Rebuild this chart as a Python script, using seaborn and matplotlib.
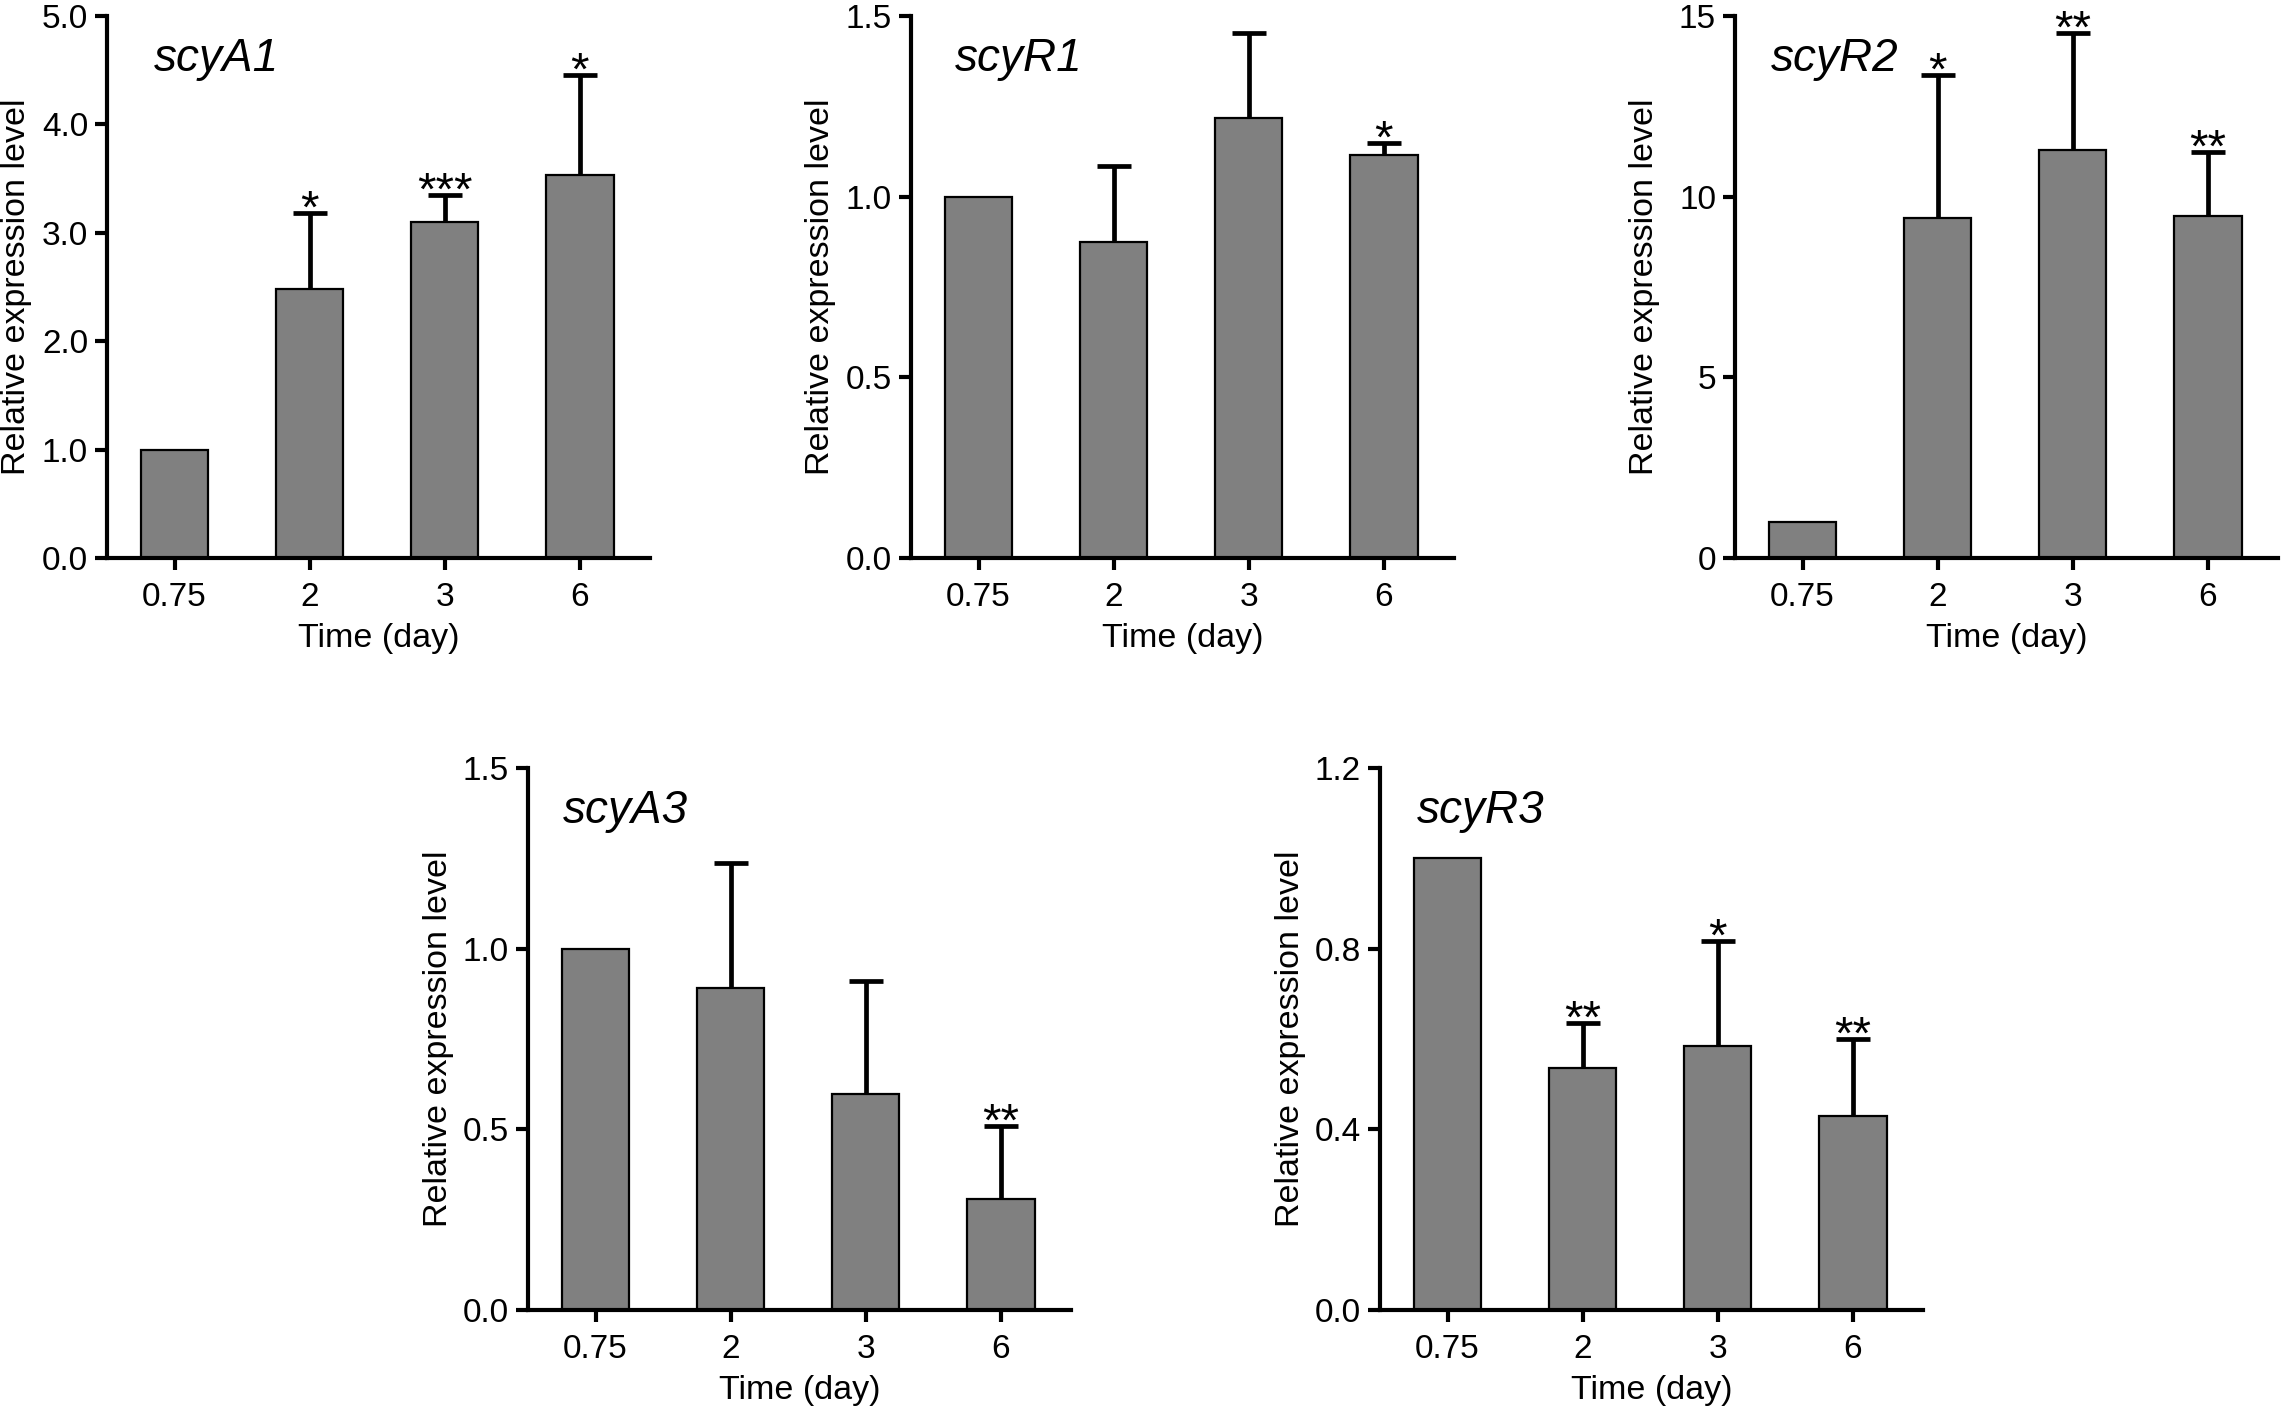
import matplotlib
matplotlib.use("Agg")
import matplotlib.pyplot as plt
import seaborn as sns
import numpy as np
import pandas as pd

sns.set_theme(style="ticks")
plt.rcParams['font.family'] = ['Liberation Sans', 'DejaVu Sans']

# ---------------- data ----------------
time_labels = ["0.75", "2", "3", "6"]

genes = ["scyA1", "scyR1", "scyR2", "scyA3", "scyR3"]

scyA1_mean = [1.0, 2.48, 3.10, 3.53]
scyA1_err = [0.0, 0.70, 0.25, 0.93]
scyA1_sig = ["", "*", "***", "*"]

scyR1_mean = [1.0, 0.874, 1.219, 1.116]
scyR1_err = [0.0, 0.212, 0.233, 0.032]
scyR1_sig = ["", "", "", "*"]

scyR2_mean = [1.0, 9.42, 11.29, 9.46]
scyR2_err = [0.0, 3.94, 3.25, 1.77]
scyR2_sig = ["", "*", "**", "**"]

scyA3_mean = [1.0, 0.89, 0.597, 0.307]
scyA3_err = [0.0, 0.347, 0.314, 0.201]
scyA3_sig = ["", "", "", "**"]

scyR3_mean = [1.0, 0.536, 0.585, 0.430]
scyR3_err = [0.0, 0.100, 0.232, 0.169]
scyR3_sig = ["", "**", "*", "**"]

yticks = {
    "scyA1": ([0, 1, 2, 3, 4, 5], "{:.1f}"),
    "scyR1": ([0, 0.5, 1.0, 1.5], "{:.1f}"),
    "scyR2": ([0, 5, 10, 15], "{:.0f}"),
    "scyA3": ([0, 0.5, 1.0, 1.5], "{:.1f}"),
    "scyR3": ([0, 0.4, 0.8, 1.2], "{:.1f}"),
}

data = {
    "scyA1": (scyA1_mean, scyA1_err, scyA1_sig),
    "scyR1": (scyR1_mean, scyR1_err, scyR1_sig),
    "scyR2": (scyR2_mean, scyR2_err, scyR2_sig),
    "scyA3": (scyA3_mean, scyA3_err, scyA3_sig),
    "scyR3": (scyR3_mean, scyR3_err, scyR3_sig),
}

# ---------------- layout (pixels in a 2282x1412 canvas) ----------------
W, H = 2282, 1412
fig = plt.figure(figsize=(W / 100, H / 100), dpi=100)

ax_w, ax_h = 543, 542
# (left px, top px, title x offset px)
layout = {
    "scyA1": (107, 16, 47),
    "scyR1": (911, 16, 44),
    "scyR2": (1735, 16, 36),
    "scyA3": (528, 768, 35),
    "scyR3": (1380, 768, 37),
}

bar_color = "#808080"

for g in genes:
    left, top, toff = layout[g]
    ax = fig.add_axes([left / W, 1 - (top + ax_h) / H, ax_w / W, ax_h / H])
    mean, err, sig = data[g]
    df = pd.DataFrame({"time": time_labels, "value": mean})
    sns.barplot(data=df, x="time", y="value", order=time_labels, ax=ax,
                color=bar_color, saturation=1, edgecolor="black",
                linewidth=1.6, width=0.5, errorbar=None, zorder=2)

    # symmetric error bars drawn beneath the bars: only the upper half shows
    idx = [i for i, e in enumerate(err) if e > 0]
    ax.errorbar(idx, [mean[i] for i in idx], yerr=[err[i] for i in idx],
                fmt="none", ecolor="black", elinewidth=3.4,
                capsize=12, capthick=3.4, zorder=1.5)

    for i, s in enumerate(sig):
        if s:
            ax.annotate(s, xy=(i, mean[i] + err[i]), xytext=(0, -7),
                        textcoords="offset points", ha="center",
                        va="baseline", fontsize=34, color="black", zorder=4)

    ticks, fmt = yticks[g]
    ax.set_ylim(0, ticks[-1])
    ax.set_yticks(ticks)
    ax.set_yticklabels([fmt.format(t) for t in ticks])
    ax.set_xlim(-0.5, 3.52)

    for sp in ["top", "right"]:
        ax.spines[sp].set_visible(False)
    for sp in ["left", "bottom"]:
        ax.spines[sp].set_linewidth(3.0)
        ax.spines[sp].set_color("black")
        ax.spines[sp].set_zorder(3)

    ax.tick_params(axis="both", direction="out", width=3.0, length=8.6,
                   color="black", labelsize=24, labelcolor="black")
    ax.tick_params(axis="x", pad=8.5)
    ax.tick_params(axis="y", pad=5)

    ax.set_xlabel("Time (day)", fontsize=24.5, color="black", va="center")
    ax.xaxis.set_label_coords(0.5, -80 / ax_h)
    ax.set_ylabel("Relative expression level", fontsize=24.5, color="black",
                  va="center")
    ax.yaxis.set_label_coords(-90 / ax_w, 0.5)

    ax.text(toff / ax_w, 1 - 43 / ax_h, g, transform=ax.transAxes,
            fontsize=33, style="italic", ha="left", va="center",
            color="black")
    ax.set_facecolor("white")

fig.patch.set_facecolor("white")
fig.savefig("out.png", dpi=100, facecolor="white")
